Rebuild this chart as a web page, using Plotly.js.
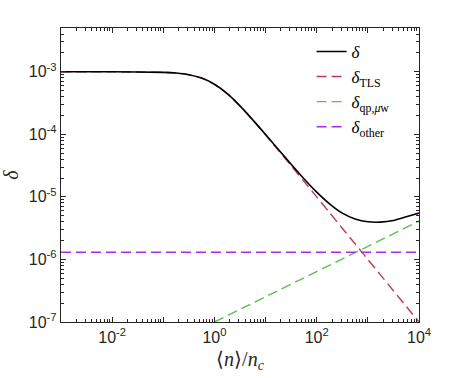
<!DOCTYPE html>
<html>
<head>
<meta charset="utf-8">
<script src="https://cdn.plot.ly/plotly-3.0.1.min.js"></script>
<style>
  html, body { margin: 0; padding: 0; background: #fff; }
  #graph { width: 464px; height: 378px; }
</style>
</head>
<body>
<div id="graph"></div>
<script>
// photon number <n>/n_c, sampled every quarter decade
const nVals = [1e-3, 1e-2, 1e-1, 0.178, 0.316, 0.562, 1, 1.78, 3.16, 5.62, 10, 17.8, 31.6, 56.2,
  100, 178, 316, 562, 1000, 1780, 3160, 5620, 10000];

// total loss (black)
const deltaTotal = [1.001e-3, 1.0e-3, 9.8e-4, 9.54e-4, 8.98e-4, 7.92e-4, 6.31e-4, 4.46e-4, 2.85e-4,
  1.705e-4, 9.94e-5, 5.73e-5, 3.32e-5, 1.95e-5, 1.19e-5, 7.75e-6, 5.5e-6, 4.45e-6, 4.0e-6,
  3.95e-6, 4.2e-6, 4.8e-6, 5.5e-6];

// TLS loss (red dashed)
const deltaTLS = [1.0e-3, 9.99e-4, 9.79e-4, 9.53e-4, 8.97e-4, 7.91e-4, 6.3e-4, 4.45e-4, 2.83e-4,
  1.69e-4, 9.78e-5, 5.57e-5, 3.15e-5, 1.77e-5, 1.0e-5, 5.62e-6, 3.16e-6, 1.78e-6, 1.0e-6,
  5.62e-7, 3.16e-7, 1.78e-7, 1.0e-7];

// quasiparticle / microwave loss (green dashed)
const nQp = [1, 10, 100, 1000, 10000];
const deltaQp = [1.0e-7, 2.55e-7, 6.4e-7, 1.62e-6, 4.1e-6];

// other loss (purple dashed)
const nOther = [1e-3, 1e4];
const deltaOther = [1.3e-6, 1.3e-6];

const xTickVals = [1e-3, 1e-2, 1e-1, 1, 10, 100, 1000, 1e4];
const xTickText = ['', '10<sup>-2</sup>', '', '10<sup>0</sup>', '', '10<sup>2</sup>', '', '10<sup>4</sup>'];
const yTickVals = [1e-7, 1e-6, 1e-5, 1e-4, 1e-3];
const yTickText = ['10<sup>-7</sup>', '10<sup>-6</sup>', '10<sup>-5</sup>', '10<sup>-4</sup>', '10<sup>-3</sup>'];

const dashStyle = '10px,5px';
const serif = 'Liberation Serif, Times New Roman, serif';

// black drawn last so it sits on top, legendrank keeps it first in the legend
const traces = [
  {x: nVals, y: deltaTLS, type: 'scatter', mode: 'lines', name: '<i>δ</i><sub>TLS</sub>', legendrank: 2,
    line: {color: '#BE3A52', width: 1.4, dash: dashStyle, shape: 'spline', smoothing: 0.6}},
  {x: nQp, y: deltaQp, type: 'scatter', mode: 'lines', name: '<i>δ</i><sub>qp,<i>μ</i>w</sub>', legendrank: 3,
    line: {color: '#55C446', width: 1.4, dash: dashStyle}},
  {x: nOther, y: deltaOther, type: 'scatter', mode: 'lines', name: '<i>δ</i><sub>other</sub>', legendrank: 4,
    line: {color: '#A62EEA', width: 1.4, dash: dashStyle}},
  {x: nVals, y: deltaTotal, type: 'scatter', mode: 'lines', name: '<i>δ</i>', legendrank: 1,
    line: {color: '#000000', width: 1.6, shape: 'spline', smoothing: 0.6}}
];

const axisCommon = {
  type: 'log',
  showline: true, mirror: 'ticks', linecolor: '#262626', linewidth: 1.3,
  ticks: 'inside', ticklen: 5, tickwidth: 1, tickcolor: '#262626',
  showgrid: false, zeroline: false,
  tickfont: {family: 'Liberation Sans, Arial, sans-serif', size: 16, color: '#262626'},
  minor: {ticks: 'inside', ticklen: 3, tickwidth: 1, tickcolor: '#262626', dtick: 'D1', showgrid: false}
};

const layout = {
  width: 464, height: 378,
  margin: {l: 61, r: 45, t: 28, b: 56},
  paper_bgcolor: '#ffffff', plot_bgcolor: '#ffffff',
  showlegend: true,
  legend: {
    x: 0.70, y: 0.98, xanchor: 'left', yanchor: 'top',
    bgcolor: 'rgba(255,255,255,0)', borderwidth: 0,
    font: {family: serif, size: 17, color: '#000'},
    tracegroupgap: 0
  },
  xaxis: Object.assign({}, axisCommon, {
    range: [-3, 4],
    tickmode: 'array', tickvals: xTickVals, ticktext: xTickText,
    title: {text: '⟨<i>n</i>⟩/<i>n</i><sub><i>c</i></sub>', standoff: 7,
      font: {family: serif, size: 20, color: '#262626'}}
  }),
  yaxis: Object.assign({}, axisCommon, {
    range: [-7, -2.3],
    tickmode: 'array', tickvals: yTickVals, ticktext: yTickText,
    title: {text: '<i>δ</i>', standoff: 6,
      font: {family: serif, size: 20, color: '#262626'}}
  })
};

Plotly.newPlot('graph', traces, layout, {staticPlot: true, displayModeBar: false});
</script>
</body>
</html>
